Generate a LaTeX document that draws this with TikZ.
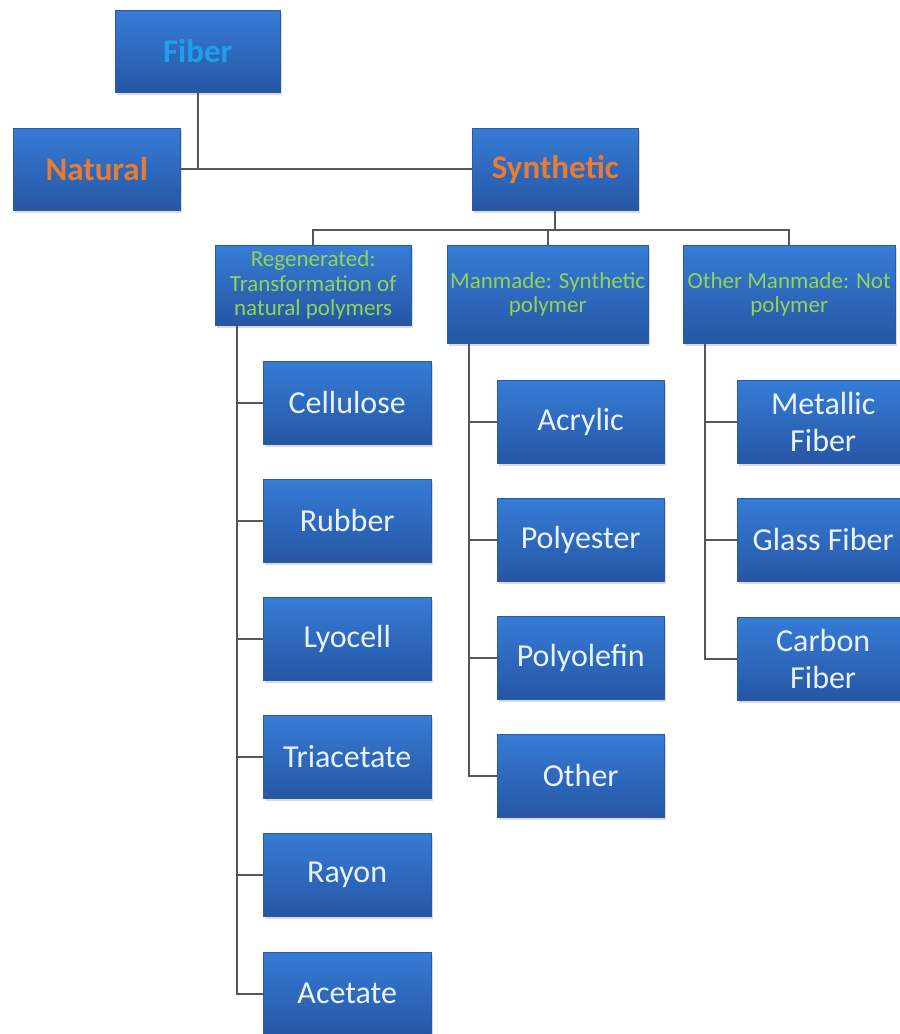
\documentclass[tikz,border=0pt]{standalone}
\usepackage{fontspec}
\setmainfont{Carlito}
\usetikzlibrary{shadows}
\definecolor{boxtop}{RGB}{54,124,214}
\definecolor{boxbot}{RGB}{38,86,164}
\definecolor{boxedge}{RGB}{40,90,170}
\definecolor{linegray}{RGB}{85,85,90}
\definecolor{fibercol}{RGB}{30,160,232}
\definecolor{headcol}{RGB}{232,124,52}
\definecolor{catcol}{RGB}{146,212,86}
\definecolor{leafcol}{RGB}{232,243,255}
\tikzset{
  box/.style={anchor=north west, inner sep=0pt, align=center,
    top color=boxtop, bottom color=boxbot, draw=boxedge, line width=0.4pt,
    drop shadow={opacity=0.28, shadow xshift=1.5pt, shadow yshift=-3pt}},
  headbox/.style={box, font=\bfseries\fontsize{33}{38}\selectfont, text=headcol},
  catbox/.style={box, font=\fontsize{23}{24.5}\selectfont, text=catcol},
  leafbox/.style={box, font=\fontsize{32}{37}\selectfont, text=leafcol,
    minimum width=167pt, minimum height=83pt},
  conn/.style={draw=linegray, line width=1.8pt}
}
\begin{document}
\begin{tikzpicture}[x=1pt,y=-1pt]
\useasboundingbox[fill=white] (0,0) rectangle (900,1034);
% top level
\node[headbox, text=fibercol, minimum width=165pt, minimum height=82pt] (fiber) at (115,10) {Fiber};
\node[headbox, minimum width=167pt, minimum height=82pt] (natural) at (13,128) {Natural};
\node[headbox, minimum width=166pt, minimum height=82pt] (synthetic) at (472,128) {Synthetic};
% categories
\node[catbox, minimum width=196pt, minimum height=80pt] (regen) at (215,245) {Regenerated:\\Transformation of\\natural polymers};
\node[catbox, minimum width=201pt, minimum height=98pt] (manmade) at (447,245) {Manmade: Synthetic\\polymer};
\node[catbox, minimum width=212pt, minimum height=98pt] (other) at (683,245) {Other Manmade: Not\\polymer};
% regenerated leaves
\node[leafbox, minimum width=168pt] (cellulose) at (263,361) {Cellulose};
\node[leafbox, minimum width=168pt] (rubber) at (263,479) {Rubber};
\node[leafbox, minimum width=168pt] (lyocell) at (263,597) {Lyocell};
\node[leafbox, minimum width=168pt] (triacetate) at (263,715) {Triacetate};
\node[leafbox, minimum width=168pt] (rayon) at (263,833) {Rayon};
\node[leafbox, minimum width=168pt] (acetate) at (263,952) {Acetate};
% manmade leaves
\node[leafbox] (acrylic) at (497,380) {Acrylic};
\node[leafbox] (polyester) at (497,498) {Polyester};
\node[leafbox] (polyolefin) at (497,616) {Polyolefin};
\node[leafbox] (otherleaf) at (497,734) {Other};
% other manmade leaves
\node[leafbox, minimum width=172pt] (metallic) at (737,380) {Metallic\\Fiber};
\node[leafbox, minimum width=172pt] (glass) at (737,498) {Glass Fiber};
\node[leafbox, minimum width=172pt] (carbon) at (737,617) {Carbon\\Fiber};
% connectors top
\draw[conn] (natural.east) -- (synthetic.west);
\draw[conn] (fiber.south) -- (fiber.south |- natural.east);
\coordinate (bar) at (0,230);
\draw[conn] (synthetic.south) -- (synthetic.south |- bar);
\draw[conn] (regen.north) -- (regen.north |- bar) -| (other.north);
\draw[conn] (manmade.north) -- (manmade.north |- bar);
% regenerated column
\coordinate (rx) at (237,325);
\draw[conn] (rx) |- (acetate.west);
\foreach \n in {cellulose,rubber,lyocell,triacetate,rayon}
  \draw[conn] (rx |- \n.west) -- (\n.west);
% manmade column
\coordinate (mx) at (469,343);
\draw[conn] (mx) |- (otherleaf.west);
\foreach \n in {acrylic,polyester,polyolefin}
  \draw[conn] (mx |- \n.west) -- (\n.west);
% other column
\coordinate (ox) at (705,343);
\draw[conn] (ox) |- (carbon.west);
\foreach \n in {metallic,glass}
  \draw[conn] (ox |- \n.west) -- (\n.west);
\end{tikzpicture}
\end{document}
